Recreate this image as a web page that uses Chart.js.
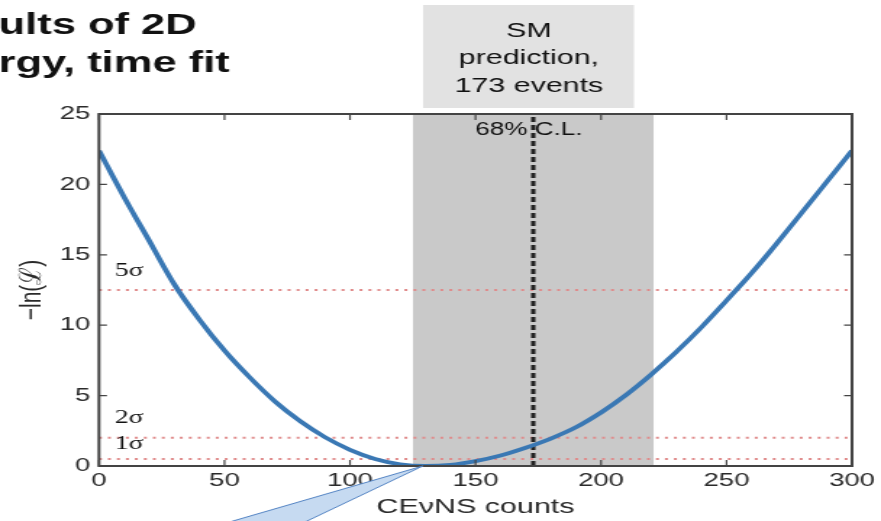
<!DOCTYPE html>
<html>
<head>
<meta charset="utf-8">
<script src="https://cdn.jsdelivr.net/npm/chart.js@4/dist/chart.umd.min.js"></script>
<style>
  html, body { margin: 0; padding: 0; background: #fff; overflow: hidden; }
  #fit-chart { display: block; }
</style>
</head>
<body>
<!-- the original picture is stretched sideways, so the canvas is too -->
<canvas id="fit-chart" width="608" height="521" style="width:881px;height:521px"></canvas>
<script>
/* global Chart */
// CEvNS counts scanned by the fit and -ln(L)
var countsX = [0, 10, 20, 30, 40, 50, 60, 70, 80, 90, 100, 110, 120, 130, 140, 150,
    160, 170, 180, 190, 200, 210, 220, 230, 240, 250, 260, 270, 280, 290, 300];
var negLogL = [22.4, 19.1, 16.0, 12.9, 10.4, 8.2, 6.3, 4.6, 3.2, 2.05, 1.15, 0.5, 0.12, 0.0, 0.08, 0.35,
    0.75, 1.3, 1.95, 2.75, 3.8, 5.05, 6.5, 8.1, 9.85, 11.75, 13.7, 15.8, 18.0, 20.2, 22.4];

var xTicks = [0, 50, 100, 150, 200, 250, 300];
var yTicks = [0, 5, 10, 15, 20, 25];

var sigmaLevels = [12.5, 2.0, 0.5];
var sigmaLabels = ['5\u03c3', '2\u03c3', '1\u03c3'];

var smPrediction = 173;
var clBand = [125, 221];
var calloutTip = [129, 0];

var headerLines = ['ults of 2D', 'rgy, time fit'];
var smBoxLines = ['SM', 'prediction,', '173 events'];

(function () {
    'use strict';

    var FONT = "'Liberation Sans', Arial, Helvetica, sans-serif";
    var SERIF = "'Liberation Serif', 'Times New Roman', serif";

    function flatLine(level) {
        return {
            data: [{ x: countsX[0], y: level }, { x: countsX[countsX.length - 1], y: level }],
            borderColor: '#e08a8a',
            borderWidth: 2,
            borderDash: [2, 4.2],
            pointRadius: 0,
            fill: false,
        };
    }

    var datasets = [
        {
            label: '-ln(L)',
            data: countsX.map(function (x, i) {
                return { x: x, y: negLogL[i] };
            }),
            borderColor: '#3a78b4',
            borderWidth: 3.8,
            pointRadius: 0,
            cubicInterpolationMode: 'monotone',
            fill: false,
        },
        {
            label: 'SM',
            data: [{ x: smPrediction, y: yTicks[0] }, { x: smPrediction, y: yTicks[yTicks.length - 1] }],
            borderColor: '#222',
            borderWidth: 3,
            borderDash: [5, 3],
            pointRadius: 0,
            fill: false,
        },
    ];
    sigmaLevels.forEach(function (lv) {
        datasets.push(flatLine(lv));
    });
    datasets.push({
        label: '68% C.L.',
        data: [{ x: clBand[0], y: yTicks[yTicks.length - 1] }, { x: clBand[1], y: yTicks[yTicks.length - 1] }],
        borderWidth: 0,
        borderColor: 'rgba(0,0,0,0)',
        backgroundColor: '#c9c9c9',
        pointRadius: 0,
        fill: 'origin',
    });

    var decor = {
        id: 'decor',
        beforeDraw: function (chart) {
            var ctx = chart.ctx;
            ctx.save();
            ctx.fillStyle = '#fff';
            ctx.fillRect(0, 0, chart.width, chart.height);
            ctx.restore();
        },
        afterDraw: function (chart) {
            var ctx = chart.ctx;
            var a = chart.chartArea;
            var xs = chart.scales.x;
            var ys = chart.scales.y;
            ctx.save();

            // box and inward ticks, matlab style
            ctx.strokeStyle = '#444';
            ctx.lineWidth = 1.2;
            xTicks.forEach(function (v) {
                var px = xs.getPixelForValue(v);
                ctx.beginPath();
                ctx.moveTo(px, a.bottom);
                ctx.lineTo(px, a.bottom - 6);
                ctx.moveTo(px, a.top);
                ctx.lineTo(px, a.top + 6);
                ctx.stroke();
            });
            yTicks.forEach(function (v) {
                var py = ys.getPixelForValue(v);
                ctx.beginPath();
                ctx.moveTo(a.left, py);
                ctx.lineTo(a.left + 5.5, py);
                ctx.moveTo(a.right, py);
                ctx.lineTo(a.right - 5.5, py);
                ctx.stroke();
            });
            ctx.lineWidth = 2;
            ctx.strokeRect(a.left, a.top, a.right - a.left, a.bottom - a.top);

            // sigma labels
            ctx.fillStyle = '#111';
            ctx.font = '19px ' + SERIF;
            ctx.textAlign = 'left';
            ctx.textBaseline = 'alphabetic';
            var sigOff = [14, 15, 10];
            sigmaLevels.forEach(function (lv, i) {
                ctx.fillText(sigmaLabels[i], a.left + 11, ys.getPixelForValue(lv) - sigOff[i]);
            });

            // 68% C.L.
            ctx.font = '18px ' + FONT;
            ctx.fillText('68% C.L.', xs.getPixelForValue(smPrediction) - 40, a.top + 21);

            // axis titles
            ctx.fillStyle = '#2a2a2a';
            ctx.font = '21px ' + FONT;
            ctx.textAlign = 'center';
            ctx.fillText('CE\u03bdNS counts', (a.left + a.right) / 2, 513);
            ctx.save();
            ctx.translate(22, (a.top + a.bottom) / 2);
            ctx.rotate(-Math.PI / 2);
            ctx.textBaseline = 'middle';
            ctx.font = '21px ' + FONT;
            ctx.fillText('\u2212ln(\u2112)', 0, 0);
            ctx.restore();

            // slide heading, cut at the left edge
            ctx.fillStyle = '#111';
            ctx.textAlign = 'left';
            ctx.font = 'bold 30px ' + FONT;
            ctx.fillText(headerLines[0], -1, 34);
            ctx.fillText(headerLines[1], -1, 72);

            // SM prediction box
            ctx.fillStyle = '#e2e2e2';
            ctx.fillRect(292, 5, 145.5, 103);
            ctx.fillStyle = '#111';
            ctx.textAlign = 'center';
            ctx.font = '21px ' + FONT;
            var base = [37, 64, 92];
            smBoxLines.forEach(function (t, i) {
                ctx.fillText(t, 365, base[i]);
            });

            // callout pointing at the minimum
            var tx = xs.getPixelForValue(calloutTip[0]);
            var ty = ys.getPixelForValue(calloutTip[1]);
            ctx.beginPath();
            ctx.moveTo(tx, ty);
            ctx.lineTo(209, 523);
            ctx.lineTo(156, 523);
            ctx.closePath();
            ctx.fillStyle = '#c6daf1';
            ctx.fill();
            ctx.strokeStyle = '#5585c4';
            ctx.lineWidth = 1;
            ctx.stroke();

            ctx.restore();
        },
    };

    new Chart(document.getElementById('fit-chart').getContext('2d'), {
        type: 'line',
        data: { datasets: datasets },
        options: {
            responsive: false,
            animation: false,
            events: [],
            layout: { padding: { top: 114, right: 20, left: 0, bottom: 0 } },
            plugins: {
                legend: { display: false },
                tooltip: { enabled: false },
                title: { display: false },
            },
            scales: {
                x: {
                    type: 'linear',
                    min: xTicks[0],
                    max: xTicks[xTicks.length - 1],
                    grid: { display: false, drawTicks: false },
                    border: { display: false },
                    afterBuildTicks: function (s) {
                        s.ticks = xTicks.map(function (v) { return { value: v }; });
                    },
                    afterFit: function (s) { s.height = 55; },
                    ticks: {
                        padding: 3,
                        maxRotation: 0,
                        color: '#2a2a2a',
                        font: { family: FONT, size: 19 },
                    },
                },
                y: {
                    min: yTicks[0],
                    max: yTicks[yTicks.length - 1],
                    grid: { display: false, drawTicks: false },
                    border: { display: false },
                    afterBuildTicks: function (s) {
                        s.ticks = yTicks.map(function (v) { return { value: v }; });
                    },
                    afterFit: function (s) { s.width = 68.3; },
                    ticks: {
                        padding: 6,
                        color: '#2a2a2a',
                        font: { family: FONT, size: 19 },
                    },
                },
            },
        },
        plugins: [decor],
    });
})();
</script>
</body>
</html>
